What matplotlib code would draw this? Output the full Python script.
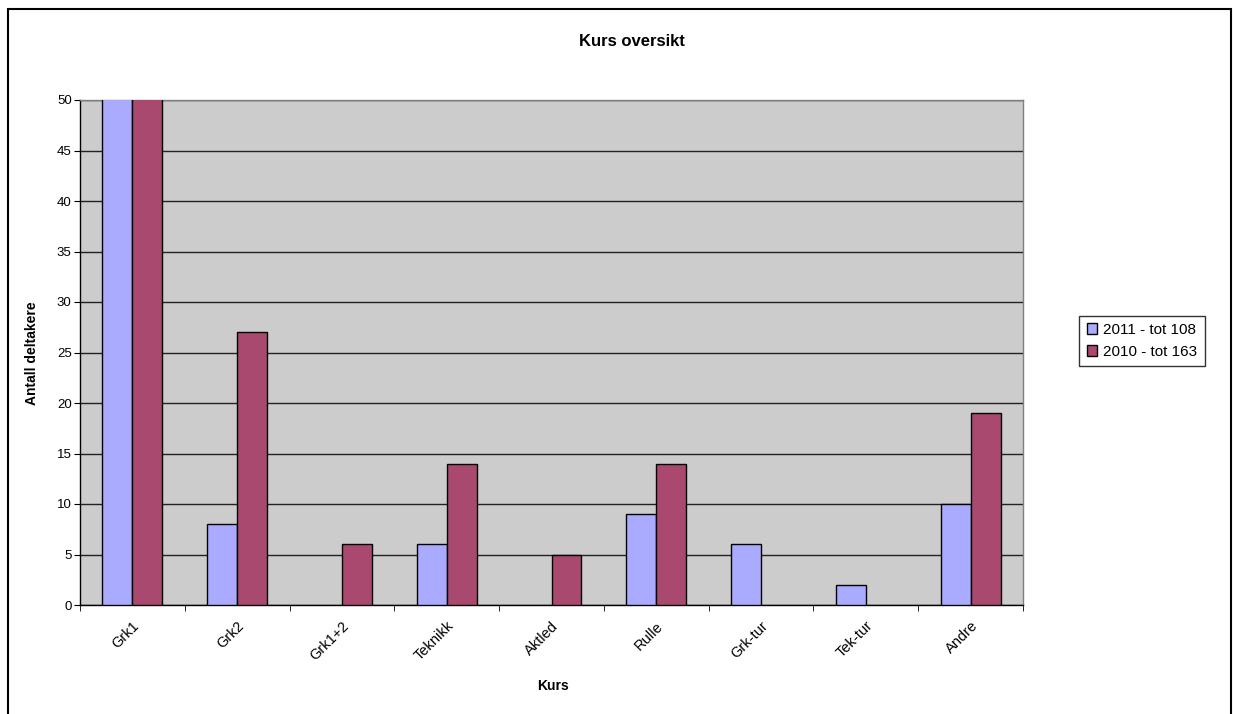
import numpy as np
import matplotlib.pyplot as plt
from matplotlib.patches import Rectangle

plt.rcParams['font.family'] = ['Liberation Sans', 'DejaVu Sans']

kurs = ['Grk1', 'Grk2', 'Grk1+2', 'Teknikk', 'Aktled', 'Rulle', 'Grk-tur', 'Tek-tur', 'Andre']
# Grk1 is cut off at 50 in the chart; the values come from the legend totals
aar_2011 = [67, 8, 0, 6, 0, 9, 6, 2, 10]
aar_2010 = [78, 27, 6, 14, 5, 14, 0, 0, 19]
navn_2011 = '2011 - tot 108'
navn_2010 = '2010 - tot 163'

fig = plt.figure(figsize=(12.33, 7.14), dpi=100)
ax = fig.add_axes([80 / 1233, 1 - 605 / 714, (1023 - 80) / 1233, (605 - 100) / 714])
ax.set_facecolor('#CCCCCC')

x = np.arange(len(kurs))
w = 0.286
# no outline on empty bars
lw_2011 = [1 if v else 0 for v in aar_2011]
lw_2010 = [1 if v else 0 for v in aar_2010]
ax.bar(x - w / 2, aar_2011, w, color='#AAAAFF', edgecolor='black', linewidth=lw_2011, label=navn_2011, zorder=3)
ax.bar(x + w / 2, aar_2010, w, color='#A9496F', edgecolor='black', linewidth=lw_2010, label=navn_2010, zorder=3)

ax.set_xlim(-0.5, len(kurs) - 0.5)
ax.set_ylim(0, 50)
ax.set_yticks(range(0, 51, 5))
ax.yaxis.grid(True, color='#222222', linewidth=1, zorder=1)
ax.set_xticks(x)
ax.set_xticklabels(kurs, rotation=45, ha='right', va='top', rotation_mode='anchor', fontsize=10.5)
ax.set_xticks(np.arange(-0.5, len(kurs)), minor=True)
ax.tick_params(axis='x', which='major', length=0, pad=10)
ax.tick_params(axis='x', which='minor', length=4, color='black')
ax.tick_params(axis='y', length=4, labelsize=9.5, color='black', pad=2)
for s in ax.spines.values():
    s.set_color('#808080')
    s.set_linewidth(1)
ax.spines['left'].set_color('black')
ax.spines['bottom'].set_color('black')

fig.text(632 / 1233, 1 - 41 / 714, 'Kurs oversikt', ha='center', va='center', fontsize=12, fontweight='bold')
fig.text(32 / 1233, 1 - 353 / 714, 'Antall deltakere', ha='center', va='center', rotation=90,
         fontsize=10, fontweight='bold')
fig.text(553 / 1233, 1 - 686 / 714, 'Kurs', ha='center', va='center', fontsize=10, fontweight='bold')

leg = fig.legend(loc='center left', bbox_to_anchor=(1079 / 1233, 1 - 341 / 714), fontsize=11,
                 frameon=True, fancybox=False, edgecolor='black', handlelength=0.7, handleheight=0.7,
                 handletextpad=0.4, borderpad=0.5, labelspacing=0.5, borderaxespad=0)
leg.get_frame().set_linewidth(1)

fig.patches.append(Rectangle((8 / 1233, -0.1), (1231 - 8) / 1233, 1.1 - 9 / 714, transform=fig.transFigure,
                             fill=False, edgecolor='black', linewidth=1.5))

fig.savefig('out.png', dpi=100)
